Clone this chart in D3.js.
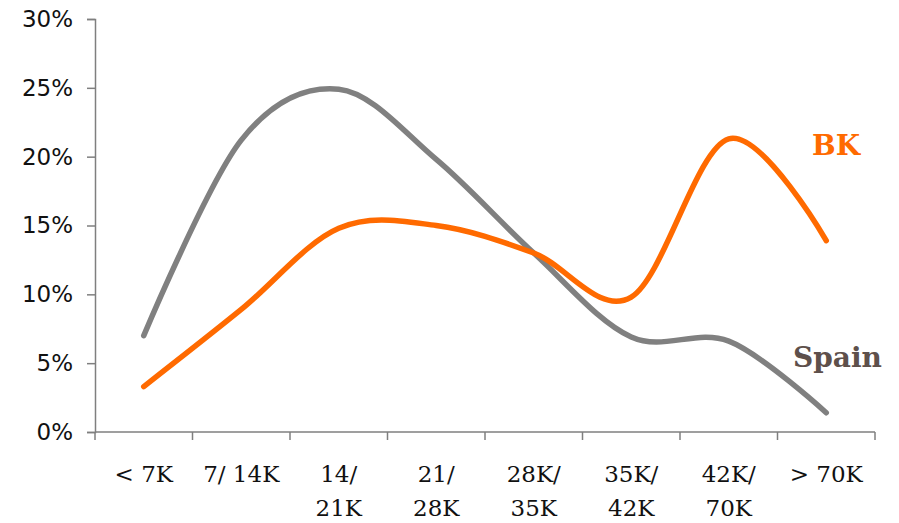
<!DOCTYPE html>
<html><head><meta charset="utf-8">
<script src="https://cdn.jsdelivr.net/npm/d3@7"></script>
<style>html,body{margin:0;padding:0;background:#fff;}</style>
</head><body>
<svg id="chart" width="899" height="523"></svg>
<script>
const categories = ["< 7K", "7/ 14K", "14/\n21K", "21/\n28K", "28K/\n35K", "35K/\n42K", "42K/\n70K", "> 70K"];
const spain = [0.070, 0.212, 0.249, 0.198, 0.130, 0.069, 0.066, 0.014];
const bk = [0.033, 0.089, 0.148, 0.150, 0.130, 0.098, 0.213, 0.139];
const yTicks = [0, 0.05, 0.10, 0.15, 0.20, 0.25, 0.30];

(function() {
const svg = d3.select("#chart");
const mLeft = 95, mRight = 875, mTop = 19, mBottom = 432;
const x = d3.scaleBand().domain(categories).range([mLeft, mRight]);
const y = d3.scaleLinear().domain([0, 0.30]).range([mBottom, mTop]);
const axisColor = "#7f7f7f";

// Y axis
const yAxis = d3.axisLeft(y).tickValues(yTicks).tickFormat(d3.format(".0%")).tickSize(8).tickPadding(14);
const yg = svg.append("g").attr("transform", `translate(${mLeft},0)`).call(yAxis);
yg.select(".domain").attr("stroke", axisColor).attr("stroke-width", 1.5);
yg.selectAll(".tick line").attr("stroke", axisColor).attr("stroke-width", 1.5);
yg.selectAll(".tick text").attr("font-family", "DejaVu Sans, sans-serif").attr("font-size", 23).attr("fill", "#111");

// X axis
const xg = svg.append("g");
xg.append("line").attr("x1", mLeft).attr("x2", mRight).attr("y1", mBottom).attr("y2", mBottom)
  .attr("stroke", axisColor).attr("stroke-width", 1.5);
const bounds = categories.map(c => x(c)).concat([x(categories[categories.length - 1]) + x.bandwidth()]);
xg.selectAll("line.tk").data(bounds).join("line").attr("class", "tk")
  .attr("x1", d => d).attr("x2", d => d).attr("y1", mBottom).attr("y2", mBottom + 8)
  .attr("stroke", axisColor).attr("stroke-width", 1.5);
const lbl = xg.selectAll("text.xl").data(categories).join("text").attr("class", "xl")
  .attr("x", d => x(d) + x.bandwidth() / 2).attr("y", 482)
  .attr("text-anchor", "middle").attr("font-family", "DejaVu Serif, serif").attr("font-size", 23).attr("fill", "#111");
lbl.each(function(d) {
  const parts = d.split("\n");
  const t = d3.select(this);
  parts.forEach((p, i) => {
    t.append("tspan").attr("x", x(d) + x.bandwidth() / 2).attr("dy", i === 0 ? 0 : 34).text(p);
  });
});

// Lines
const line = d3.line().x((d, i) => x(categories[i]) + x.bandwidth() / 2).y(d => y(d)).curve(d3.curveCardinal.tension(0));
svg.append("path").datum(spain).attr("d", line).attr("fill", "none").attr("stroke", "#808080")
  .attr("stroke-width", 5.5).attr("stroke-linecap", "round").attr("stroke-linejoin", "round");
svg.append("path").datum(bk).attr("d", line).attr("fill", "none").attr("stroke", "#ff6a00")
  .attr("stroke-width", 5.5).attr("stroke-linecap", "round").attr("stroke-linejoin", "round");

// Series labels
svg.append("text").attr("x", 812).attr("y", 155).text("BK")
  .attr("font-family", "DejaVu Serif, serif").attr("font-weight", "bold").attr("font-size", 28).attr("fill", "#ff6a00");
svg.append("text").attr("x", 793).attr("y", 367).text("Spain")
  .attr("font-family", "DejaVu Serif, serif").attr("font-weight", "bold").attr("font-size", 28).attr("fill", "#5e504b");
})();
</script>
</body></html>
